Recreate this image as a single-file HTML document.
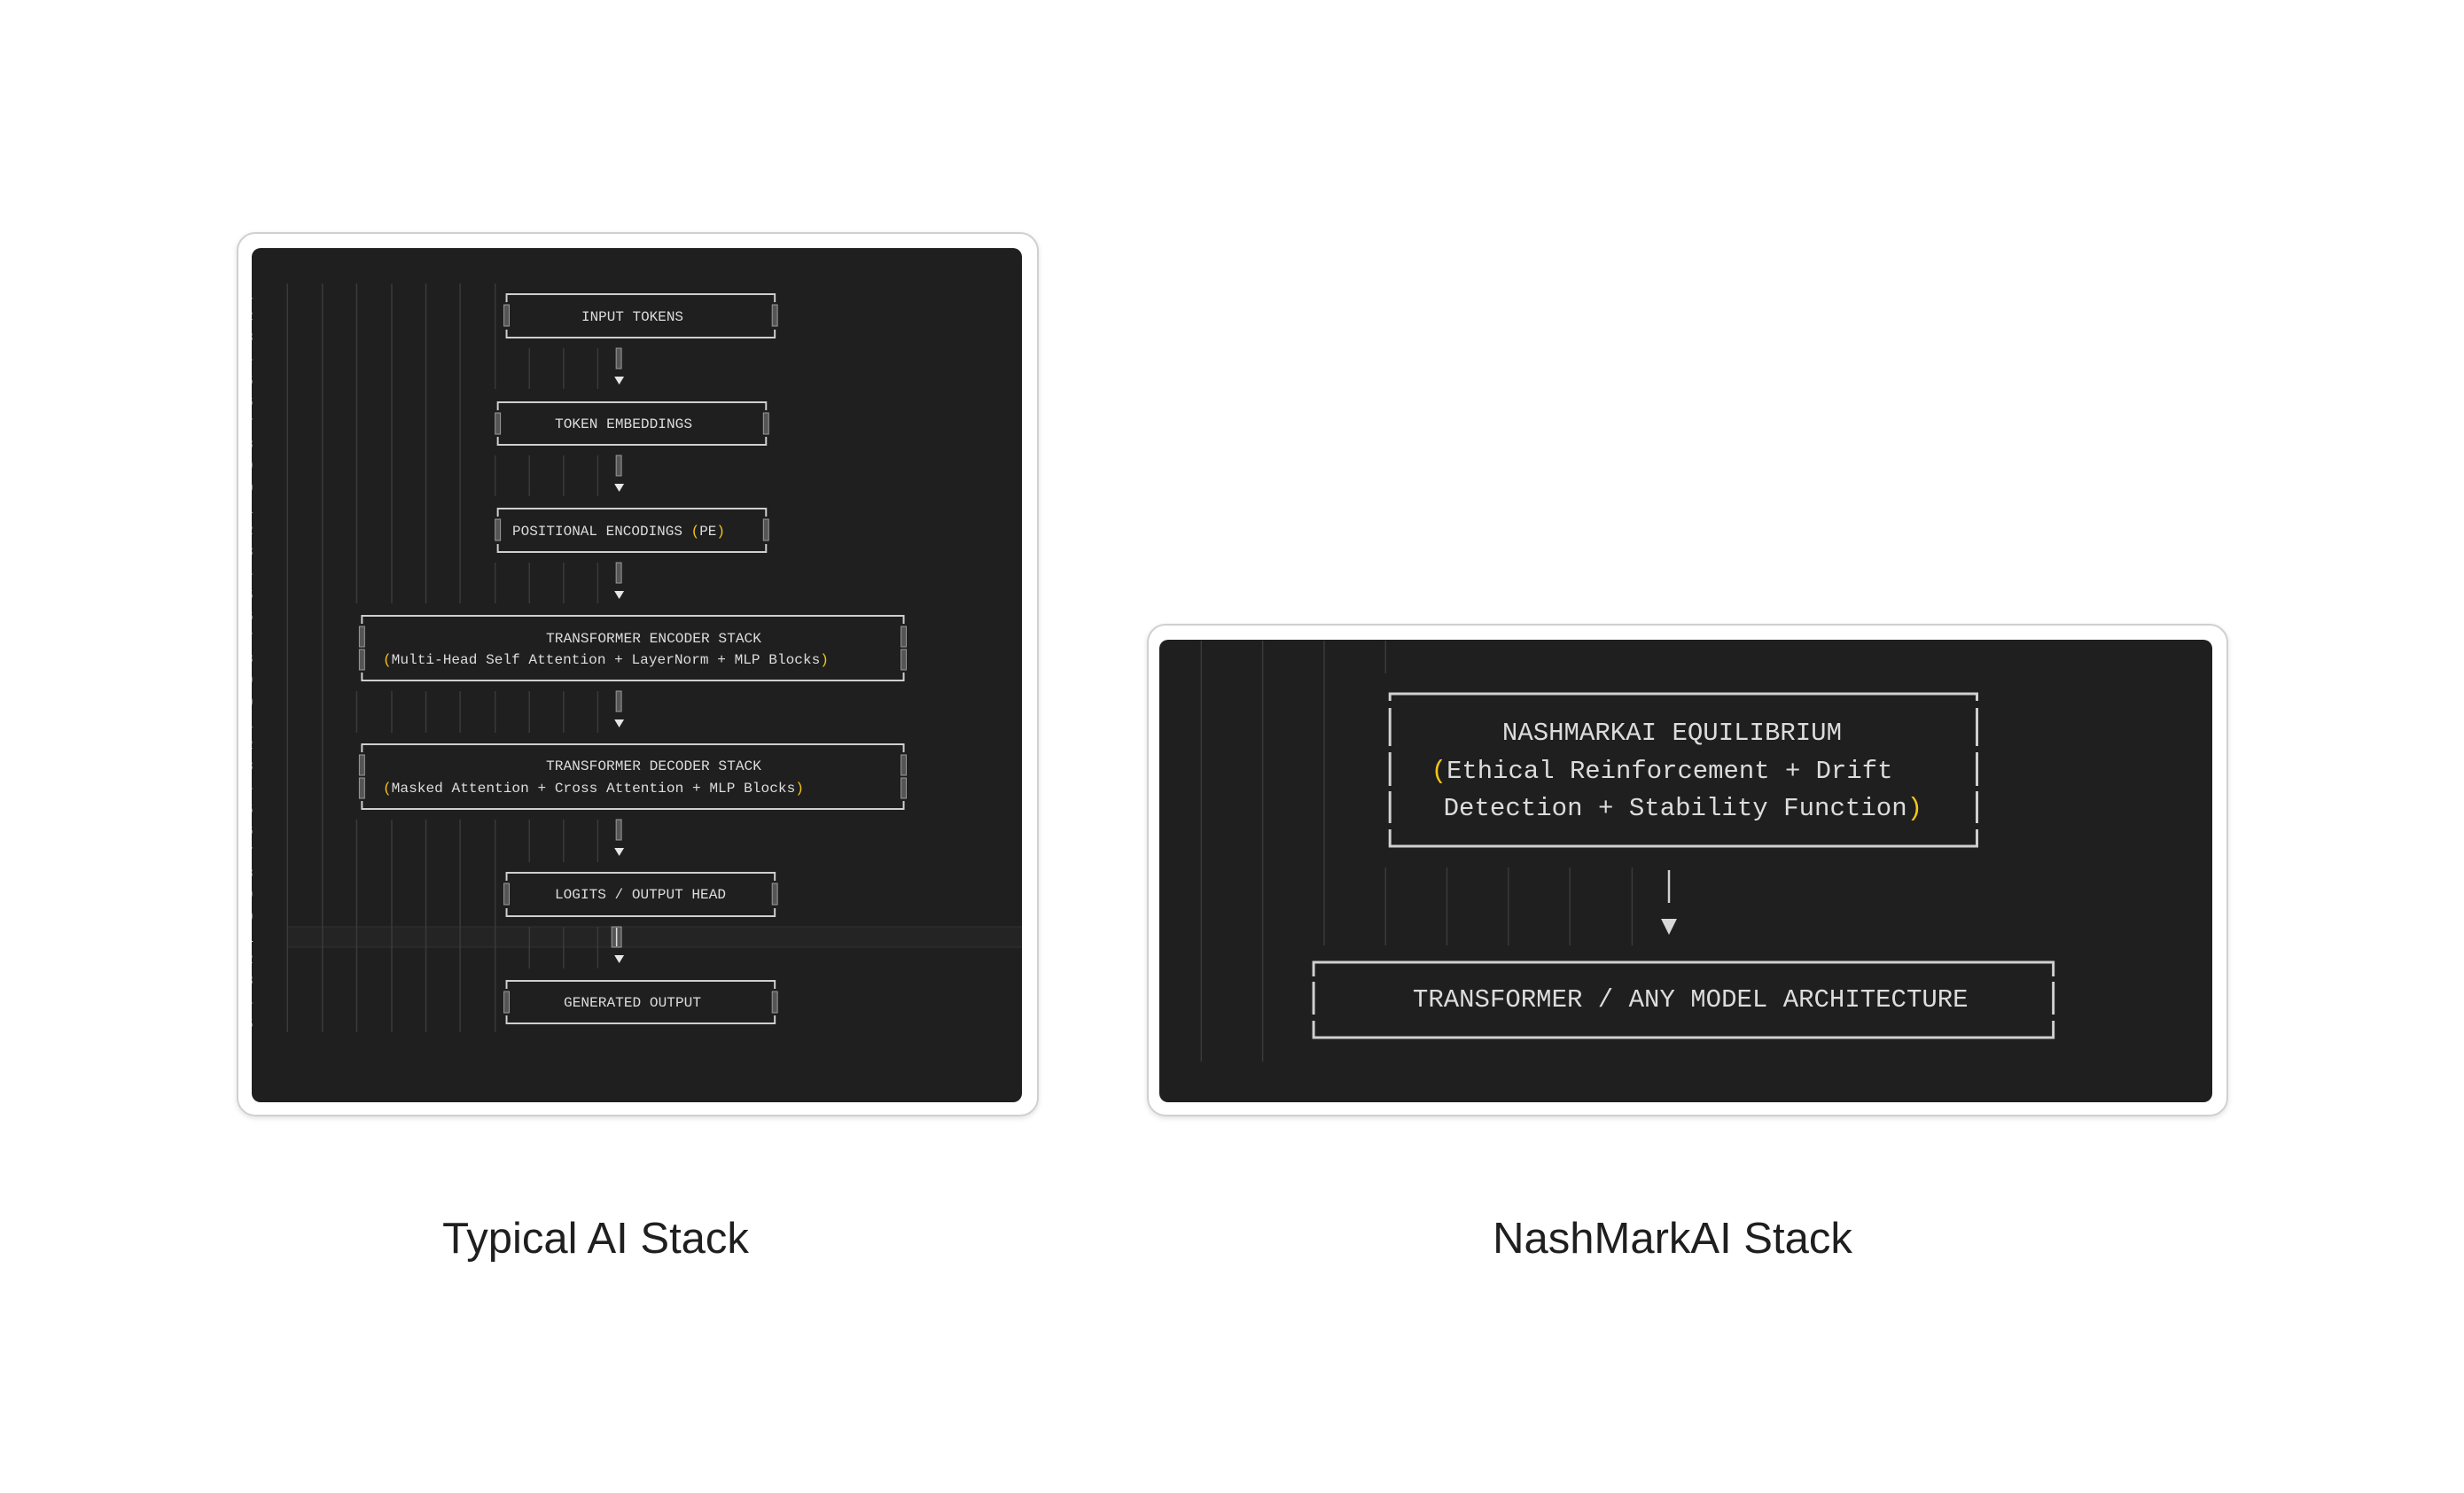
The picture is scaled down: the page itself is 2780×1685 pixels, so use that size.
<!DOCTYPE html>
<html><head><meta charset="utf-8"><style>
html,body{margin:0;padding:0;background:#fff;}
svg{display:block;}
.m{font-family:"Liberation Mono",monospace;fill:#dcdcdc;}
.y{fill:#f5c518;}
.lbl{font-family:"Liberation Sans",sans-serif;fill:#1f1f1f;font-size:49px;}
</style></head><body>
<svg width="2780" height="1685" viewBox="0 0 2780 1685" xmlns="http://www.w3.org/2000/svg">
<defs>
<filter id="sh" x="-5%" y="-5%" width="110%" height="110%"><feDropShadow dx="0" dy="2" stdDeviation="3" flood-color="#000" flood-opacity="0.12"/></filter>
<clipPath id="lp"><rect x="284" y="280" width="869" height="964" rx="10"/></clipPath>
</defs>
<!-- LEFT CARD -->
<rect x="268" y="263" width="903" height="996" rx="20" fill="#fff" stroke="#d0d0d0" stroke-width="2" filter="url(#sh)"/>
<rect x="284" y="280" width="869" height="964" rx="10" fill="#1f1f1f"/>
<g clip-path="url(#lp)">
<g font-family="Liberation Mono,monospace" font-size="15" fill="#7c828c">
<text x="277" y="337">1</text><text x="277" y="361">2</text><text x="277" y="385">3</text><text x="277" y="409">4</text><text x="277" y="434">5</text><text x="277" y="458">6</text><text x="277" y="482">7</text><text x="277" y="506">8</text><text x="277" y="530">9</text><text x="277" y="555">0</text><text x="277" y="579">1</text><text x="277" y="603">2</text><text x="277" y="627">3</text><text x="277" y="651">4</text><text x="277" y="676">5</text><text x="277" y="700">6</text><text x="277" y="724">7</text><text x="277" y="748">8</text><text x="277" y="772">9</text><text x="277" y="797">0</text><text x="277" y="821">1</text><text x="277" y="845">2</text><text x="277" y="869">3</text><text x="277" y="893">4</text><text x="277" y="918">5</text><text x="277" y="942">6</text><text x="277" y="966">7</text><text x="277" y="990">8</text><text x="277" y="1014">9</text><text x="277" y="1039">0</text><text x="277" y="1063" fill="#ddd">1</text><text x="277" y="1087">2</text><text x="277" y="1111">3</text><text x="277" y="1135">4</text><text x="277" y="1160">5</text>
</g>
<rect x="325" y="1046" width="840" height="23" fill="#242424"/>
<line x1="325" y1="1046" x2="1164" y2="1046" stroke="#2c2c2c" stroke-width="1.5"/>
<line x1="325" y1="1069" x2="1164" y2="1069" stroke="#2c2c2c" stroke-width="1.5"/>
</g>
<g transform="translate(260,0) scale(0.989,1) translate(-260,0)">
<g stroke="#3a3a3a" stroke-width="1.5">
<line x1="325" y1="320" x2="325" y2="1165"/><line x1="365" y1="320" x2="365" y2="1165"/>
<path d="M404 320V681M404 780V827M404 925V1165M444 320V681M444 780V827M444 925V1165M483 320V681M483 780V827M483 925V1165M522 320V681M522 780V827M522 925V1165"/>
<path d="M562 320V439M562 514V560M562 635V681M562 780V827M562 925V1165"/>
<path d="M601 393V439M601 514V560M601 635V681M601 780V827M601 925V973M601 1046V1093"/>
<path d="M640 393V439M640 514V560M640 635V681M640 780V827M640 925V973M640 1046V1093"/>
<path d="M679 393V439M679 514V560M679 635V681M679 780V827M679 925V973M679 1046V1093"/>
</g>
<g fill="none" stroke="#cfcfcf" stroke-width="2">
<path d="M575 341V332H881V341M575 372V381H881V372"/>
<path d="M565 463V454H871V463M565 493V502H871V493"/>
<path d="M565 583V574H871V583M565 614V623H871V614"/>
<path d="M410 704V695H1028V704M410 759V768H1028V759"/>
<path d="M410 849V840H1028V849M410 904V913H1028V904"/>
<path d="M575 994V985H881V994M575 1025V1034H881V1025"/>
<path d="M575 1116V1107H881V1116M575 1146V1155H881V1146"/>
</g>
<g fill="#555" stroke="#9a9a9a" stroke-width="1">
<rect x="572" y="344" width="6" height="24"/><rect x="878" y="344" width="6" height="24"/>
<rect x="562" y="466" width="6" height="24"/><rect x="868" y="466" width="6" height="24"/>
<rect x="562" y="586" width="6" height="24"/><rect x="868" y="586" width="6" height="24"/>
<rect x="407" y="707" width="6" height="23"/><rect x="407" y="733" width="6" height="23"/><rect x="1025" y="707" width="6" height="23"/><rect x="1025" y="733" width="6" height="23"/>
<rect x="407" y="852" width="6" height="23"/><rect x="407" y="878" width="6" height="23"/><rect x="1025" y="852" width="6" height="23"/><rect x="1025" y="878" width="6" height="23"/>
<rect x="572" y="997" width="6" height="24"/><rect x="878" y="997" width="6" height="24"/>
<rect x="572" y="1119" width="6" height="24"/><rect x="878" y="1119" width="6" height="24"/>
<rect x="700" y="393" width="6" height="23"/><rect x="700" y="514" width="6" height="23"/><rect x="700" y="635" width="6" height="23"/><rect x="700" y="780" width="6" height="23"/><rect x="700" y="925" width="6" height="23"/>
<rect x="695" y="1046" width="11" height="23"/>
</g>
<line x1="700.5" y1="1047" x2="700.5" y2="1068" stroke="#ddd" stroke-width="1.5"/>
<g fill="#e6e6e6">
<path d="M698 425h11l-5.5 9z"/><path d="M698 546h11l-5.5 9z"/><path d="M698 667h11l-5.5 9z"/><path d="M698 812h11l-5.5 9z"/><path d="M698 957h11l-5.5 9z"/><path d="M698 1078h11l-5.5 9z"/>
</g>
</g>
<g class="m" font-size="16">
<text x="656" y="362" textLength="115" lengthAdjust="spacingAndGlyphs">INPUT TOKENS</text>
<text x="626" y="483" textLength="155" lengthAdjust="spacingAndGlyphs">TOKEN EMBEDDINGS</text>
<text x="578" y="604" textLength="240" lengthAdjust="spacingAndGlyphs">POSITIONAL ENCODINGS <tspan class="y">(</tspan>PE<tspan class="y">)</tspan></text>
<text x="616" y="725" textLength="243" lengthAdjust="spacingAndGlyphs">TRANSFORMER ENCODER STACK</text>
<text x="432" y="749" textLength="503" lengthAdjust="spacingAndGlyphs"><tspan class="y">(</tspan>Multi-Head Self Attention + LayerNorm + MLP Blocks<tspan class="y">)</tspan></text>
<text x="616" y="869" textLength="243" lengthAdjust="spacingAndGlyphs">TRANSFORMER DECODER STACK</text>
<text x="432" y="894" textLength="475" lengthAdjust="spacingAndGlyphs"><tspan class="y">(</tspan>Masked Attention + Cross Attention + MLP Blocks<tspan class="y">)</tspan></text>
<text x="626" y="1014" textLength="193" lengthAdjust="spacingAndGlyphs">LOGITS / OUTPUT HEAD</text>
<text x="636" y="1136" textLength="155" lengthAdjust="spacingAndGlyphs">GENERATED OUTPUT</text>
</g>

<!-- RIGHT CARD -->
<rect x="1295" y="705" width="1218" height="554" rx="20" fill="#fff" stroke="#d0d0d0" stroke-width="2" filter="url(#sh)"/>
<rect x="1308" y="722" width="1188" height="522" rx="10" fill="#1f1f1f"/>
<g transform="translate(1290,0) scale(0.99,1) translate(-1290,0)">
<g stroke="#3a3a3a" stroke-width="1.5">
<path d="M1356 723V1198M1426 723V1198M1496 723V1067M1566 723V760M1566 979V1067M1636 979V1067M1706 979V1067M1776 979V1067M1847 979V1067"/>
</g>
<g stroke="#d0d0d0" stroke-width="3" fill="none">
<path d="M1571 791V783H2240V791"/><path d="M1571 936V955H2240V936"/>
<path d="M1571 799V842M1571 849V887M1571 893V929M2240 799V842M2240 849V887M2240 893V929"/>
<path d="M1484 1102V1086H2327V1102"/><path d="M1484 1152V1171H2327V1152"/>
<path d="M1484 1108V1145M2327 1108V1145"/>
<path d="M1889 982V1019" stroke-width="2.5"/>
</g>
<path d="M1880 1037h18l-9 18z" fill="#d8d8d8"/>
<g class="m" font-size="29">
<text x="1699" y="835" textLength="387" lengthAdjust="spacingAndGlyphs">NASHMARKAI EQUILIBRIUM</text>
<text x="1618" y="878" textLength="526" lengthAdjust="spacingAndGlyphs"><tspan class="y">(</tspan>Ethical Reinforcement + Drift</text>
<text x="1632" y="920" textLength="546" lengthAdjust="spacingAndGlyphs">Detection + Stability Function<tspan class="y">)</tspan></text>
<text x="1597" y="1136" textLength="633" lengthAdjust="spacingAndGlyphs">TRANSFORMER / ANY MODEL ARCHITECTURE</text>
</g>
</g>

<text class="lbl" x="672" y="1414" text-anchor="middle">Typical AI Stack</text>
<text class="lbl" x="1887" y="1414" text-anchor="middle">NashMarkAI Stack</text>
</svg>
</body></html>
